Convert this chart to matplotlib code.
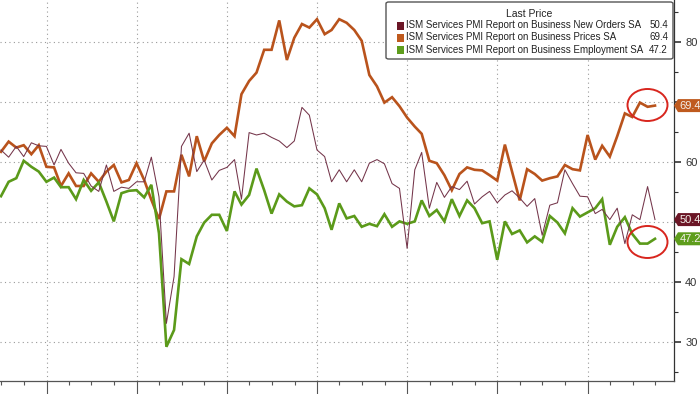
import matplotlib
matplotlib.use("Agg")
import matplotlib.pyplot as plt
import matplotlib.dates as mdates
from matplotlib.patches import Ellipse, Polygon, Rectangle, FancyBboxPatch
from matplotlib.ticker import MultipleLocator, FixedLocator, FixedFormatter
import numpy as np
import pandas as pd

plt.rcParams['font.family'] = ['Liberation Sans', 'DejaVu Sans']

# ---------------- data (monthly, Jun 2018 .. Sep 2025) ----------------
start_month = "2018-06-30"
new_orders = [62.0, 60.8, 62.6, 60.9, 63.2, 62.7, 62.6, 59.5, 62.1, 59.8, 58.2, 58.1,
              56.0, 55.1, 59.5, 55.1, 55.8, 55.6, 56.7, 56.7, 60.8, 54.2, 33.1, 40.9,
              62.6, 64.8, 58.4, 60.3, 57.0, 58.6, 59.1, 60.4, 53.8, 64.9, 64.5, 64.8,
              64.1, 63.5, 62.4, 63.5, 69.1, 67.8, 62.0, 60.9, 56.7, 58.7, 56.7, 58.7,
              56.7, 59.8, 60.4, 59.7, 56.4, 55.6, 45.6, 58.7, 61.6, 52.3, 56.6, 54.1,
              55.9, 55.4, 56.8, 53.0, 54.2, 55.1, 53.2, 54.5, 55.2, 54.0, 52.6, 53.9,
              47.8, 52.8, 53.2, 58.7, 56.4, 54.3, 54.2, 51.4, 52.1, 50.4, 52.3, 46.4,
              51.2, 50.4, 55.9, 50.4]
prices = [61.7, 63.4, 62.4, 62.8, 61.3, 62.8, 59.2, 59.1, 56.0, 58.1, 56.0, 56.0,
          58.1, 56.7, 58.4, 59.5, 56.6, 57.0, 59.8, 57.0, 53.7, 50.5, 55.1, 55.1,
          61.2, 57.6, 64.3, 60.1, 63.1, 64.5, 65.7, 64.3, 71.3, 73.5, 74.9, 78.7,
          78.7, 83.6, 77.0, 80.7, 83.0, 82.4, 83.8, 81.3, 82.0, 83.8, 83.2, 82.0,
          80.2, 74.5, 72.6, 69.9, 70.8, 69.3, 67.4, 65.9, 64.7, 60.2, 59.8, 57.8,
          55.3, 58.0, 59.1, 58.7, 58.6, 57.8, 56.9, 62.9, 58.4, 53.6, 58.8, 58.0,
          56.9, 57.3, 57.6, 59.5, 58.8, 58.6, 64.5, 60.4, 62.7, 60.9, 64.3, 68.1,
          67.5, 69.9, 69.2, 69.4]
employment = [54.3, 56.7, 57.3, 60.2, 59.2, 58.4, 56.7, 57.4, 55.8, 55.8, 53.8, 57.0,
              55.2, 56.6, 53.4, 50.1, 54.8, 55.2, 55.3, 54.1, 56.2, 48.1, 29.2, 32.0,
              43.8, 43.0, 47.6, 49.9, 51.2, 51.2, 48.5, 55.1, 52.9, 54.5, 58.9, 55.3,
              51.4, 54.6, 53.4, 52.6, 52.8, 55.6, 54.6, 52.3, 48.7, 53.1, 50.6, 51.0,
              49.2, 49.7, 49.3, 51.3, 49.2, 50.1, 49.7, 50.1, 53.6, 51.0, 52.0, 50.1,
              53.8, 51.0, 53.6, 52.3, 49.8, 50.1, 43.7, 50.1, 48.0, 48.6, 46.6, 47.6,
              46.7, 51.0, 49.9, 48.1, 52.3, 50.9, 51.6, 52.3, 53.8, 46.2, 49.2, 50.8,
              48.0, 46.4, 46.4, 47.2]
series_names = ["ISM Services PMI Report on Business New Orders SA",
                "ISM Services PMI Report on Business Prices SA",
                "ISM Services PMI Report on Business Employment SA"]
legend_title = "Last Price"
y_ticks = [30, 40, 50, 60, 70, 80]
y_tick_labels = ["30", "40", "", "60", "", "80"]

dates = pd.date_range(start_month, periods=len(prices), freq="ME")

# ---------------- style ----------------
C_NO_LINE = "#74354a"
C_NO = "#6b1626"
C_PR = "#b9531c"
C_PR_BOX = "#bf5a1e"
C_EM = "#5b9a1a"
C_EM_BOX = "#5e9d1c"
GRID = "#9a9a9a"

W, H = 700, 394
fig = plt.figure(figsize=(W / 100, H / 100), dpi=100)
fig.patch.set_facecolor("white")
ax_right_px = 674
ax_bottom_px = 380.5
ax = fig.add_axes([0, (H - ax_bottom_px) / H, ax_right_px / W, ax_bottom_px / H])

ax.set_ylim(23.58, 87.0)
ax.set_xlim(mdates.date2num(pd.Timestamp("2018-06-26")),
            mdates.date2num(pd.Timestamp("2025-12-16")))

ax.plot(dates, prices, color=C_PR, lw=1.9, solid_joinstyle="miter", zorder=3)
ax.plot(dates, employment, color=C_EM, lw=1.9, solid_joinstyle="miter", zorder=3)
ax.plot(dates, new_orders, color=C_NO_LINE, lw=0.75, zorder=4)

# axes styling
for s in ["top", "left"]:
    ax.spines[s].set_visible(False)
ax.spines["right"].set_color("#333333")
ax.spines["bottom"].set_color("#555555")
ax.spines["right"].set_linewidth(0.9)
ax.spines["bottom"].set_linewidth(0.9)

ax.yaxis.tick_right()
ax.yaxis.set_major_locator(FixedLocator(y_ticks))
ax.yaxis.set_major_formatter(FixedFormatter(y_tick_labels))
ax.yaxis.set_minor_locator(MultipleLocator(5))
ax.tick_params(axis="y", which="major", length=5, width=1.2, color="#333333",
               labelsize=8, labelcolor="#333333", pad=3)
ax.tick_params(axis="y", which="minor", length=3, width=0.8, color="#333333")

ax.xaxis.set_major_locator(mdates.YearLocator())
ax.xaxis.set_minor_locator(mdates.MonthLocator(bymonth=[4, 7, 10]))
ax.tick_params(axis="x", which="major", length=10, width=0.8, color="#555555",
               labelbottom=False)
ax.tick_params(axis="x", which="minor", length=3, width=0.8, color="#555555")

ax.grid(True, which="major", axis="both", color=GRID, linestyle=(0, (1, 3)), lw=0.8)
ax.set_axisbelow(True)

# red circles around the latest readings
px_per_day = (ax_right_px) / (ax.get_xlim()[1] - ax.get_xlim()[0])
px_per_unit = ax_bottom_px / (87.0 - 23.58)
for vals in (prices, employment):
    cx = np.mean(mdates.date2num(dates[-3:]))
    cy = np.mean(vals[-3:])
    e = Ellipse((cx, cy), width=40 / px_per_day, height=32 / px_per_unit,
                fill=False, edgecolor="#d8261e", lw=1.4, zorder=6)
    ax.add_patch(e)

# last-value tags on the right axis
trans = ax.get_yaxis_transform()
bw = 1 / ax_right_px
for val, col in ((new_orders[-1], C_NO), (prices[-1], C_PR_BOX), (employment[-1], C_EM_BOX)):
    hh = 6.5 / px_per_unit
    pts = [(1 + 0 * bw, val), (1 + 4 * bw, val + hh), (1 + 28 * bw, val + hh),
           (1 + 28 * bw, val - hh), (1 + 4 * bw, val - hh)]
    poly = Polygon(pts, closed=True, transform=trans, facecolor=col, edgecolor="none",
                   clip_on=False, zorder=10)
    ax.add_patch(poly)
    ax.text(1 + 16 * bw, val, f"{val:.1f}", transform=trans, ha="center", va="center",
            fontsize=8, color="#f4f0ea", clip_on=False, zorder=11)

# legend box (figure pixel coordinates)
def fx(p):
    return p / W

def fy(p):
    return 1 - p / H

box = FancyBboxPatch((fx(386), fy(59)), fx(287), 57 / H,
                     boxstyle="round,pad=0,rounding_size=0.004",
                     transform=fig.transFigure, facecolor="white",
                     edgecolor="#555555", lw=1.0, zorder=20)
fig.add_artist(box)
fig.text(fx(529), fy(14), legend_title, ha="center", va="center", fontsize=7.5,
         color="#222222", zorder=21)
rows_y = [25.5, 37.5, 50]
cols = [C_NO, C_PR_BOX, C_EM_BOX]
lasts = [new_orders[-1], prices[-1], employment[-1]]
for yy, name, col, lv in zip(rows_y, series_names, cols, lasts):
    fig.add_artist(Rectangle((fx(397), fy(yy + 4)), fx(7), 8 / H,
                             transform=fig.transFigure, facecolor=col,
                             edgecolor="none", zorder=21))
    fig.text(fx(406), fy(yy), name, ha="left", va="center", fontsize=7,
             color="#222222", zorder=21)
    fig.text(fx(668), fy(yy), f"{lv:.1f}", ha="right", va="center", fontsize=7,
             color="#222222", zorder=21)

fig.savefig("out.png", dpi=100)
